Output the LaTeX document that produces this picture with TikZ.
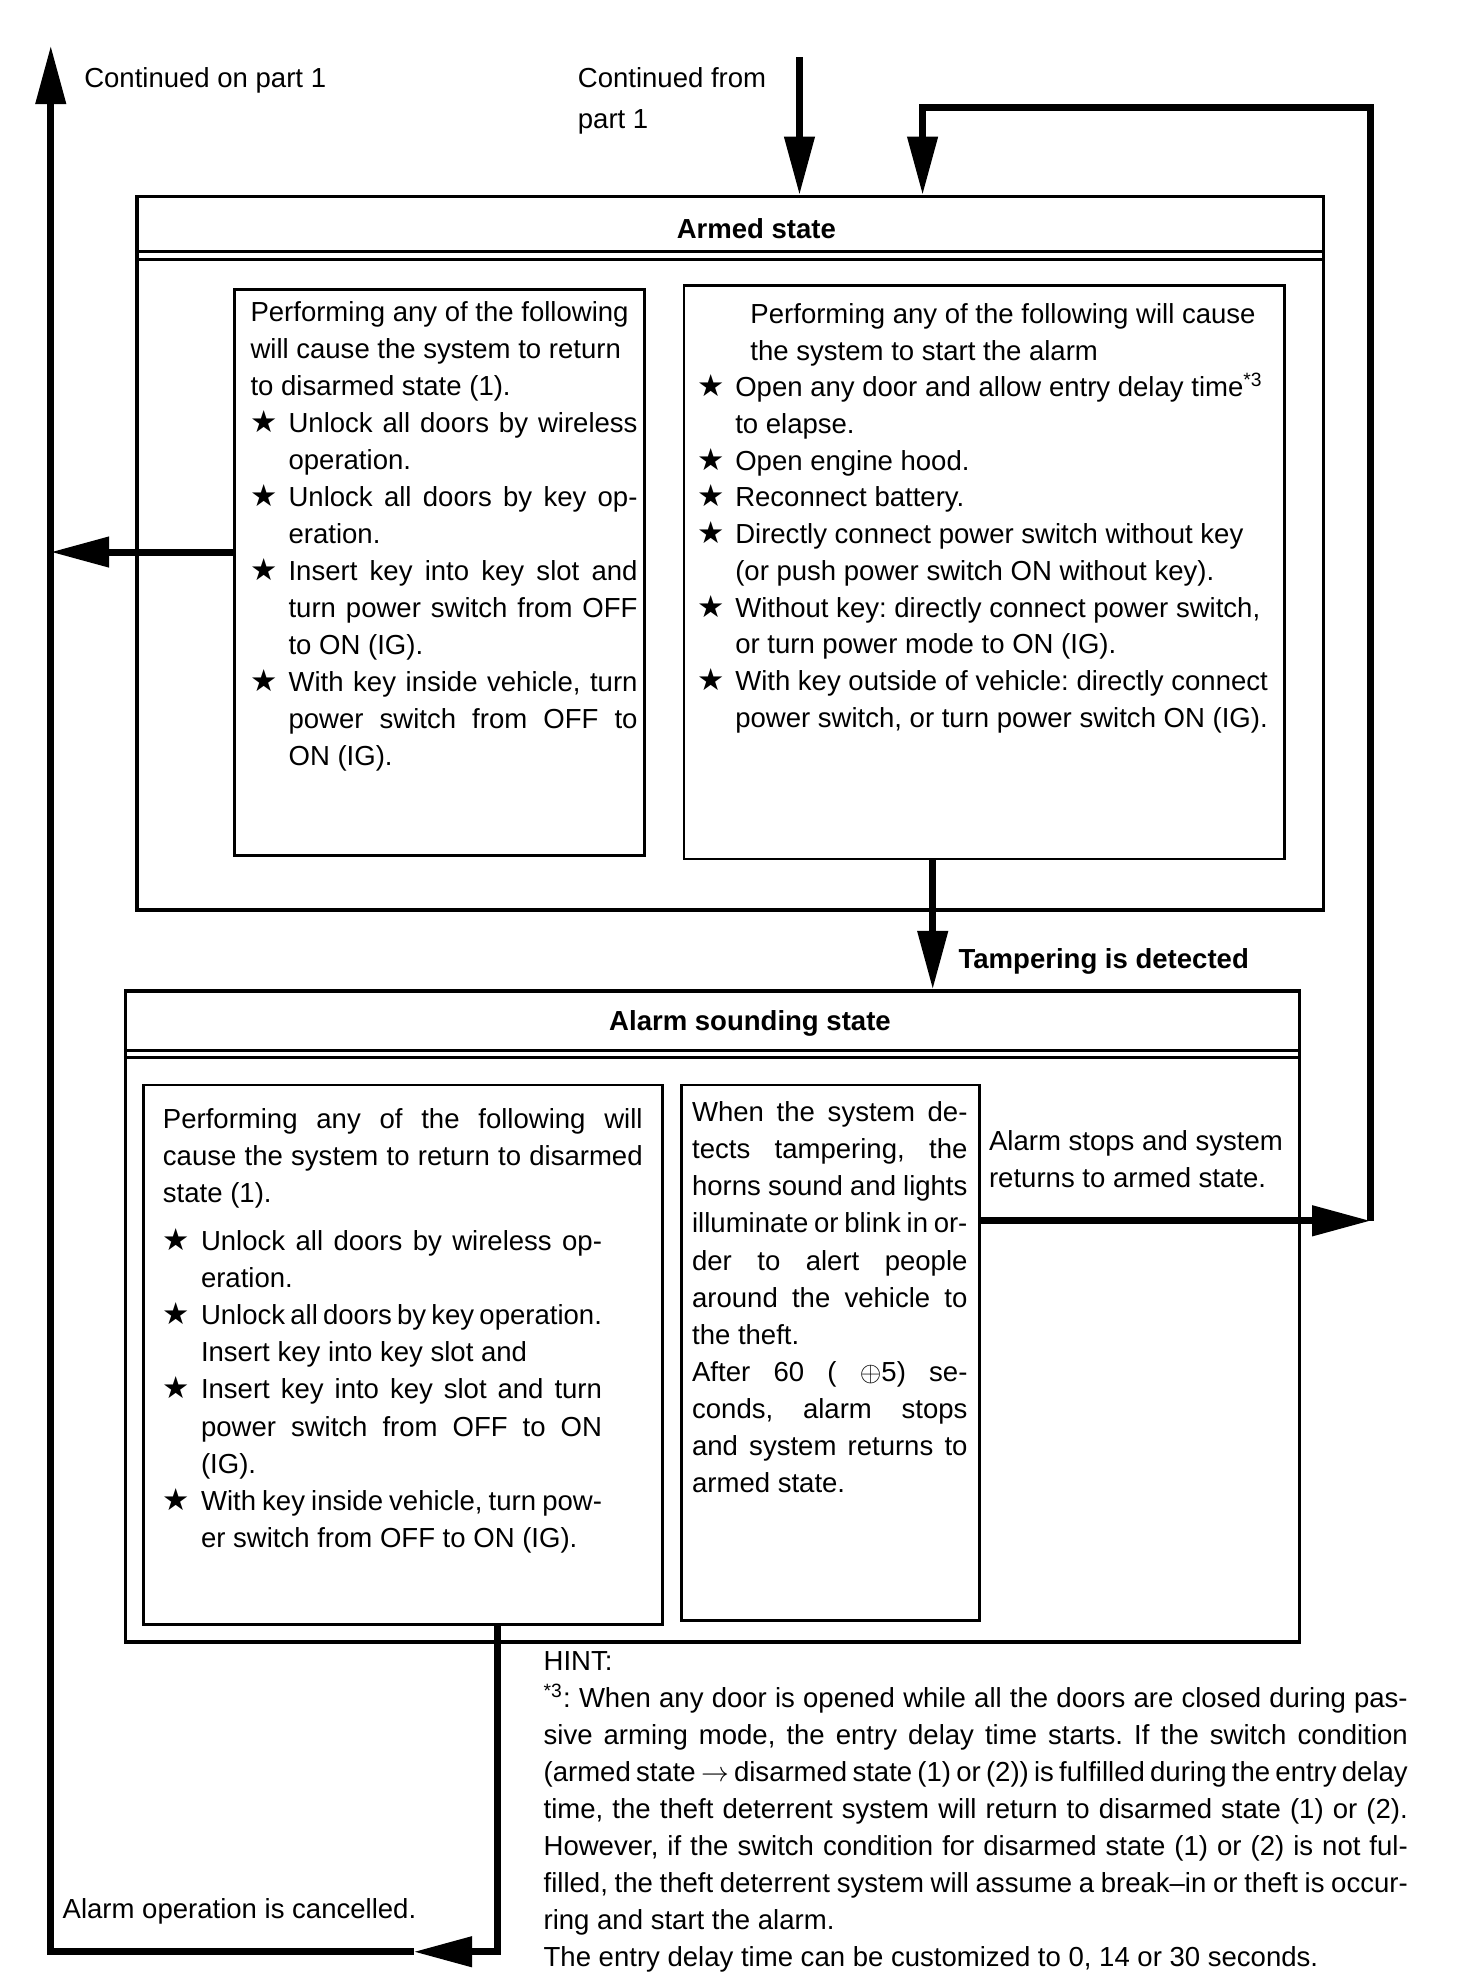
\documentclass[tikz,border=0pt]{standalone}
\usepackage{fontspec}
\setmainfont{Liberation Sans}
\newfontfamily\starfont{DejaVu Sans}
\usetikzlibrary{arrows.meta,fit}

\newcommand{\bodyfont}{\fontsize{10.85pt}{14.6pt}\selectfont\frenchspacing\hyphenpenalty=10000 }
\newcommand{\tightfont}{\fontsize{10.85pt}{14.45pt}\selectfont\frenchspacing\hyphenpenalty=10000 }
\newcommand{\st}{\makebox[15pt][l]{\starfont\fontsize{12pt}{12pt}\selectfont ★}}
\newcommand{\itm}{\par\noindent\hangindent=15pt\hangafter=1 \st}

\begin{document}
\begin{tikzpicture}[x=0.5pt,y=-0.5pt,
    statebox/.style={draw,line width=1.4pt,inner sep=0pt},
    subbox/.style={draw,line width=1pt,inner sep=0pt},
    txt/.style={anchor=base west,inner sep=0pt,text width=#1,align=justify,font=\bodyfont},
    lbl/.style={anchor=base west,inner sep=0pt,align=left,font=\bodyfont},
    head/.style={anchor=base,inner sep=0pt,font=\bodyfont\bfseries},
    titlerule/.style={line width=1pt},
    flow/.style={line width=2.75pt,-{Triangle[length=23pt,width=11.5pt]}}]
  \useasboundingbox (0,0) rectangle (1160,1565);

  \node[statebox, fit={(108,155) (1043,717)}] (armed) {};
  \node[head] (armedT) at (596,188) {Armed state};
  \draw[titlerule] (armed.west |- 0,198) -- (armed.east |- 0,198);
  \draw[titlerule] (armed.west |- 0,204.5) -- (armed.east |- 0,204.5);
  \node[subbox, fit={(185,228) (508,674)}] (armL) {};
  \node[subbox, fit={(539,225) (1012,677)}] (armR) {};

  \node[txt=152.5pt] (armLtext) at (197,253) {Performing any of the following\\
    will cause the system to return\\
    to disarmed state (1).
    \itm Unlock all doors by wireless\linebreak operation.
    \itm Unlock all doors by key op-\linebreak eration.
    \itm Insert key into key slot and\linebreak turn power switch from OFF\linebreak to ON (IG).
    \itm With key inside vehicle, turn\linebreak power switch from OFF to\linebreak ON (IG).\par};
  \node[txt=240pt, font=\tightfont] (armRtext) at (549,255) {\hangindent=21pt\hangafter=0
    Performing any of the following will cause\\the system to start the alarm
    \itm Open any door and allow entry delay time\textsuperscript{*3}\\to elapse.
    \itm Open engine hood.
    \itm Reconnect battery.
    \itm Directly connect power switch without key\\(or push power switch ON without key).
    \itm Without key: directly connect power switch,\\or turn power mode to ON (IG).
    \itm With key outside of vehicle: directly connect\\power switch, or turn power switch ON (IG).\par};

  \node[statebox, fit={(99,781) (1024,1294)}] (alarm) {};
  \node[head] (alarmT) at (591,812) {Alarm sounding state};
  \draw[titlerule] (alarm.west |- 0,828) -- (alarm.east |- 0,828);
  \draw[titlerule] (alarm.west |- 0,833.5) -- (alarm.east |- 0,833.5);
  \node[subbox, fit={(113,855) (522,1280)}] (alarmL) {};
  \node[subbox, fit={(537,855) (772,1277)}] (alarmM) {};

  \node[txt=189pt] (alarmLtext) at (128,889) {Performing any of the following will\linebreak
    cause the system to return to disarmed\linebreak
    state (1).\par\vspace{4.5pt}\rightskip=16pt
    \itm Unlock all doors by wireless op-\linebreak eration.
    \itm Unlock all doors by key operation.\\Insert key into key slot and
    \itm Insert key into key slot and turn\linebreak power switch from OFF to ON\linebreak (IG).
    \itm With key inside vehicle, turn pow-\linebreak er switch from OFF to ON (IG).\par};
  \node[txt=108.5pt] (alarmMtext) at (545,884) {When the system de-\linebreak
    tects tampering, the\linebreak horns sound and lights\linebreak
    illuminate or blink in or-\linebreak der to alert people\linebreak
    around the vehicle to\linebreak the theft.\\
    After 60 ( $\oplus$5) se-\linebreak conds, alarm stops\linebreak
    and system returns to\linebreak armed state.\par};

  \node[lbl] (stopsLbl) at (779,936) {Alarm stops and system\\returns to armed state.};
  \node[head, anchor=base west] (tamperLbl) at (755,763) {Tampering is detected};
  \node[lbl] (contOn) at (66,69) {Continued on part 1};
  \node[lbl, font=\fontsize{10.85pt}{16pt}\selectfont] (contFrom) at (455,101) {Continued from\\part 1};
  \node[lbl] (cancelLbl) at (49,1512) {Alarm operation is cancelled.};
  \node[txt=340.5pt] (hint) at (428,1316) {HINT:\\
    \textsuperscript{*3}: When any door is opened while all the doors are closed during pas-\linebreak
    sive arming mode, the entry delay time starts. If the switch condition\linebreak
    (armed state $\rightarrow$ disarmed state (1) or (2)) is fulfilled during the entry delay\linebreak
    time, the theft deterrent system will return to disarmed state (1) or (2).\linebreak
    However, if the switch condition for disarmed state (1) or (2) is not ful-\linebreak
    filled, the theft deterrent system will assume a break--in or theft is occur-\linebreak
    ring and start the alarm.\\
    The entry delay time can be customized to 0, 14 or 30 seconds.\par};

  \coordinate (upTop) at (40,36);
  \coordinate (cornerBL) at (40,1538);
  \coordinate (cornerBR) at (392,1538);
  \coordinate (cancelTip) at (326,1538);
  \coordinate (inTop) at (630,45);
  \coordinate (loopSE) at (1080,962);
  \coordinate (loopNE) at (1080,85);
  \coordinate (loopNW) at (727,85);

  \draw[flow] (inTop) -- (inTop |- armed.north);
  \draw[flow] (loopSE) -- (loopNE) -- (loopNW) -- (loopNW |- armed.north);
  \draw[flow] (alarmM.east |- loopSE) -- (loopSE);
  \draw[flow] (armL.west |- 0,435) -- (upTop |- 0,435);
  \draw[flow] (armR.south -| 735,0) -- (alarm.north -| 735,0);
  \draw[flow] (alarmL.south -| cornerBR) -- (cornerBR) -- (cancelTip);
  \draw[flow] (cancelTip) -- (cornerBL) -- (upTop);
\end{tikzpicture}
\end{document}
